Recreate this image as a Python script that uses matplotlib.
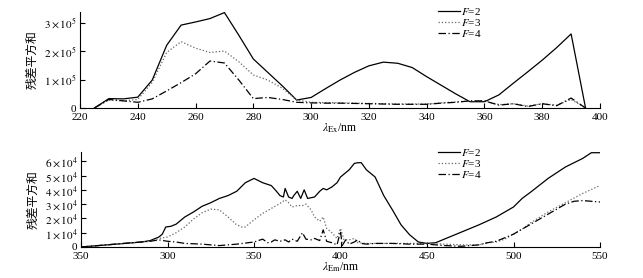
import matplotlib
matplotlib.use('Agg')
import matplotlib.pyplot as plt
import numpy as np

# excitation scan (x 1e5)
ex_wl = [225, 230, 235, 240, 245, 250, 255, 260, 265, 270, 275, 280, 285, 290, 295,
         300, 305, 310, 315, 320, 325, 330, 335, 340, 345, 350, 355, 360, 365, 370,
         375, 380, 385, 390, 395]
ex_f2 = [0, 0.33, 0.32, 0.38, 0.98, 2.2, 2.91, 3.02, 3.14, 3.35, 2.55, 1.72, 1.25, 0.78, 0.28,
         0.37, 0.68, 0.98, 1.25, 1.48, 1.61, 1.57, 1.42, 1.1, 0.8, 0.5, 0.22, 0.22, 0.46, 0.87,
         1.27, 1.68, 2.12, 2.6, 0]
ex_f3 = [0, 0.28, 0.25, 0.3, 0.9, 1.95, 2.33, 2.1, 1.95, 2.0, 1.62, 1.16, 0.98, 0.7, 0.28,
         0.2, 0.19, 0.18, 0.17, 0.16, 0.15, 0.14, 0.14, 0.14, 0.18, 0.21, 0.25, 0.25, 0.12, 0.15,
         0.07, 0.15, 0.1, 0.3, 0]
ex_f4 = [0, 0.3, 0.25, 0.2, 0.32, 0.6, 0.89, 1.2, 1.65, 1.58, 0.98, 0.33, 0.37, 0.3, 0.2,
         0.18, 0.17, 0.17, 0.16, 0.15, 0.14, 0.13, 0.13, 0.13, 0.17, 0.2, 0.25, 0.25, 0.1, 0.15,
         0.05, 0.15, 0.08, 0.35, 0]

# emission scan (x 1e4)
em_f2_wl = [250, 260, 270, 280, 285, 290, 295, 297, 299, 302, 305, 310, 315, 320, 325, 330, 335,
            340, 345, 350, 355, 360, 363, 365, 367, 368, 370, 372, 373, 375, 377, 379, 381, 383,
            385, 388, 390, 392, 395, 398, 400, 405, 408, 410, 412, 415, 420, 425, 430, 435, 440,
            445, 450, 455, 460, 470, 480, 490, 500, 505, 510, 520, 530, 540, 545, 550]
em_f2 = [0, 0.1, 0.2, 0.3, 0.35, 0.45, 0.7, 0.9, 1.4, 1.45, 1.6, 2.1, 2.45, 2.85, 3.1, 3.4, 3.6,
         3.9, 4.5, 4.8, 4.5, 4.3, 3.9, 3.6, 3.5, 4.1, 3.5, 3.4, 3.6, 3.9, 3.4, 4.0, 3.4, 3.45,
         3.5, 3.9, 4.1, 4.0, 4.2, 4.5, 4.9, 5.4, 5.85, 5.9, 5.9, 5.4, 4.9, 3.6, 2.6, 1.55, 0.85,
         0.35, 0.25, 0.3, 0.55, 1.05, 1.55, 2.1, 2.8, 3.4, 3.85, 4.8, 5.6, 6.2, 6.6, 6.6]
em_f3_wl = [250, 260, 270, 280, 290, 295, 300, 305, 310, 315, 320, 325, 330, 335, 340, 343, 345,
            350, 355, 360, 365, 368, 370, 372, 375, 378, 380, 383, 385, 388, 390, 392, 395, 398,
            400, 402, 405, 408, 410, 415, 420, 430, 440, 450, 460, 470, 480, 485, 490, 495, 500,
            505, 510, 520, 530, 540, 550]
em_f3 = [0, 0.1, 0.2, 0.3, 0.4, 0.6, 0.7, 1.0, 1.4, 1.95, 2.4, 2.65, 2.6, 2.1, 1.55, 1.4, 1.4,
         1.9, 2.35, 2.7, 3.05, 3.3, 3.1, 2.8, 2.9, 2.9, 3.0, 2.6, 2.1, 1.8, 2.1, 1.3, 1.0, 0.6,
         1.3, 0.5, 0.5, 0.6, 0.3, 0.25, 0.25, 0.25, 0.25, 0.25, 0.2, 0.15, 0.15, 0.3, 0.35, 0.55, 0.9,
         1.25, 1.7, 2.45, 3.1, 3.75, 4.3]
em_f4_wl = [250, 260, 270, 280, 290, 295, 300, 305, 310, 320, 330, 340, 350, 355, 358, 360, 362,
            365, 368, 370, 372, 375, 378, 380, 383, 385, 388, 390, 392, 395, 398, 400, 401, 403,
            405, 408, 410, 412, 415, 420, 430, 440, 450, 460, 470, 480, 485, 490, 500, 510, 520,
            530, 535, 540, 545, 550]
em_f4 = [0, 0.1, 0.2, 0.3, 0.4, 0.5, 0.4, 0.35, 0.25, 0.2, 0.1, 0.2, 0.35, 0.55, 0.3, 0.35, 0.5,
         0.4, 0.5, 0.35, 0.55, 0.4, 1.0, 0.55, 0.5, 0.6, 0.45, 1.2, 0.4, 0.3, 0.15, 1.1, 0.1, 0.5,
         0.2, 0.35, 0.5, 0.25, 0.2, 0.25, 0.25, 0.2, 0.2, 0.1, 0.05, 0.15, 0.3, 0.4, 0.9, 1.6, 2.3,
         3.0, 3.2, 3.25, 3.2, 3.15]

labels = [r'$F$=2', r'$F$=3', r'$F$=4']
ex_xticks = [220, 240, 260, 280, 300, 320, 340, 360, 380, 400]
ex_yticks = [0, 1, 2, 3]
ex_yticklabels = ['0', r'$1\times10^5$', r'$2\times10^5$', r'$3\times10^5$']
em_xticks = [250, 300, 350, 400, 450, 500, 550]
em_xticklabels = ['350', '300', '350', '400', '450', '500', '550']
em_yticks = [0, 1, 2, 3, 4, 5, 6]
em_yticklabels = ['0'] + [r'$%d\times10^4$' % i for i in range(1, 7)]

plt.rcParams['font.family'] = ['Liberation Serif', 'Noto Sans CJK SC']
plt.rcParams['mathtext.fontset'] = 'stix'

W, H = 643, 278
fig = plt.figure(figsize=(W / 100, H / 100), dpi=100)
ax1 = fig.add_axes([80 / W, 1 - 108 / H, 520 / W, 96 / H])
ax2 = fig.add_axes([81 / W, 1 - 247 / H, 519 / W, 95 / H])

styles = [dict(color='k', ls='-', lw=0.9),
          dict(color='0.4', ls=':', lw=0.9),
          dict(color='k', ls=(0, (6, 2, 1, 2)), lw=0.9)]

for y, st, lab in zip([ex_f2, ex_f3, ex_f4], styles, labels):
    ax1.plot(ex_wl, y, label=lab, **st)
for x, y, st, lab in zip([em_f2_wl, em_f3_wl, em_f4_wl], [em_f2, em_f3, em_f4], styles, labels):
    ax2.plot(x, y, label=lab, **st)

ax1.set_xlim(220, 400)
ax1.set_ylim(0, 3.37)
ax1.set_xticks(ex_xticks)
ax1.set_yticks(ex_yticks)
ax1.set_yticklabels(ex_yticklabels)
ax1.set_xlabel(r'$\lambda_{\rm Ex}$/nm', fontsize=8.5, labelpad=0)

ax2.set_xlim(250, 550)
ax2.set_ylim(0, 6.65)
ax2.set_xticks(em_xticks)
ax2.set_xticklabels(em_xticklabels)
ax2.set_yticks(em_yticks)
ax2.set_yticklabels(em_yticklabels)
ax2.set_xlabel(r'$\lambda_{\rm Em}$/nm', fontsize=8.5, labelpad=0)

for ax, top in [(ax1, 6), (ax2, 147)]:
    ax.spines['top'].set_visible(False)
    ax.spines['right'].set_visible(False)
    ax.tick_params(direction='in', length=3.5, width=0.8, labelsize=8)
    ax.tick_params(axis='x', pad=3.5)
    ax.tick_params(axis='y', pad=2.5)
    ax.set_ylabel('残差平方和', fontsize=8.5, family=['Noto Sans CJK SC'])
    ax.yaxis.set_label_coords(-0.08, 0.5)
    ax.legend(loc='upper left', bbox_to_anchor=(438 / W, 1 - top / H),
              bbox_transform=fig.transFigure, frameon=False, fontsize=8,
              handlelength=2, handletextpad=0.1, labelspacing=0,
              borderpad=0, borderaxespad=0)

plt.savefig('out.png', dpi=100)
